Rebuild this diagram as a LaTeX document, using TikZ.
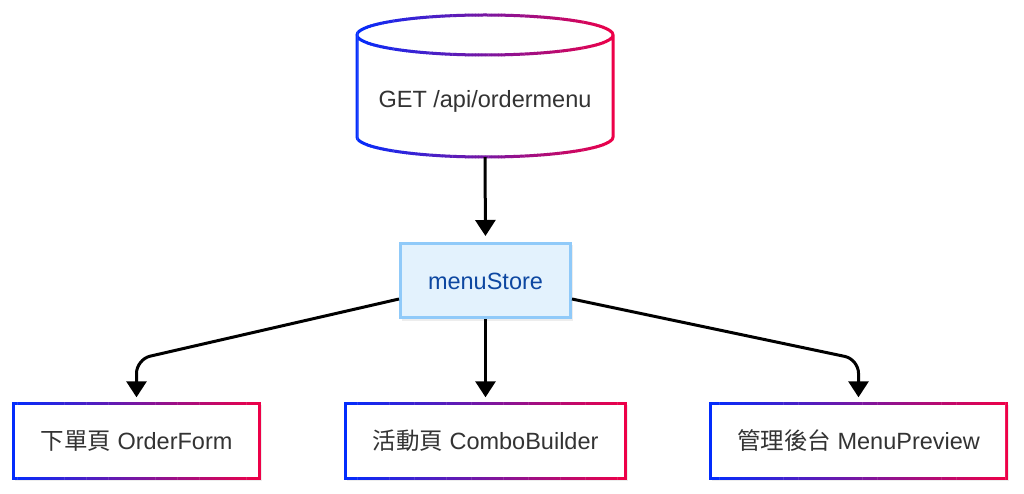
\documentclass[tikz,border=0pt]{standalone}
\usepackage{fontspec}
\setmainfont{Liberation Sans}
\newfontfamily\cjk{Noto Sans CJK TC}
\usetikzlibrary{arrows.meta,calc}
\definecolor{gBlue}{RGB}{0,45,255}
\definecolor{gRed}{RGB}{240,0,70}
\definecolor{msFill}{HTML}{E3F2FD}
\definecolor{msDraw}{HTML}{90CAF9}
\definecolor{msText}{HTML}{0D47A1}
\definecolor{txt}{HTML}{333333}
\newcommand\gradstroke[3]{%
 \foreach \i in {0,...,79}{%
  \pgfmathsetmacro\xa{#1+(#2-#1)/80*\i}%
  \pgfmathsetmacro\xb{#1+(#2-#1)/80*(\i+1)+0.4}%
  \pgfmathtruncatemacro\p{round(100-(\i+0.5)*1.25)}%
  \begin{scope}
   \clip (\xa,-10) rectangle (\xb,510);
   \draw[line width=3pt, draw=gBlue!\p!gRed] #3;
  \end{scope}
 }}
\begin{document}
\begin{tikzpicture}[x=1pt,y=-1pt,
  every node/.style={font=\fontsize{23.5}{28}\selectfont, text=txt, inner sep=0pt, text height=17pt, text depth=0pt},
  pagebox/.style={minimum width=#1, minimum height=75pt, fill=white},
  conn/.style={line width=3pt, -{Triangle[width=20pt,length=16pt]}, rounded corners=14pt, shorten >=6pt},
  shadowbox/.style={fill=black, opacity=0.07}]
\useasboundingbox[fill=white] (0,0) rectangle (1024,494);
% cylinder
\fill[white] (357,35) -- (357,137) arc[start angle=180,end angle=0,x radius=128,y radius=20] -- (613,35) arc[start angle=0,end angle=-180,x radius=128,y radius=20] -- cycle;
\gradstroke{354}{616}{(357,35) -- (357,137) arc[start angle=180,end angle=0,x radius=128,y radius=20] -- (613,35) (485,35) ellipse[x radius=128,y radius=20]}
\node[minimum width=256pt, minimum height=142pt] (api) at (485,86) {};
\node (apitext) at (485,99) {GET /api/ordermenu};
% menuStore
\fill[shadowbox] (402,245) rectangle (573,321);
\node[minimum width=170pt, minimum height=74pt, fill=msFill, draw=msDraw, line width=3pt, text=msText] (ms) at (485.5,280.5) {menuStore};
% bottom boxes
\fill[shadowbox] (15,405) rectangle (262,481);
\fill[shadowbox] (347,405) rectangle (628,481);
\fill[shadowbox] (712,405) rectangle (1009,481);
\node[pagebox=246pt] (b1) at (136.5,441) {{\cjk 下單頁} OrderForm};
\node[pagebox=280pt] (b2) at (485.5,441) {{\cjk 活動頁} ComboBuilder};
\node[pagebox=296pt] (b3) at (858.5,441) {{\cjk 管理後台} MenuPreview};
\gradstroke{11}{262}{(b1.north west) rectangle (b1.south east)}
\gradstroke{343}{628}{(b2.north west) rectangle (b2.south east)}
\gradstroke{708}{1009}{(b3.north west) rectangle (b3.south east)}
% connectors
\draw[conn] (api.south) -- (ms.north);
\draw[conn] (ms.south) -- (b2.north);
\draw[conn] ($(ms.west)+(0,18.5)$) -- ($(b1.north)+(0,-44)$) -- (b1.north);
\draw[conn] ($(ms.east)+(0,18.5)$) -- ($(b3.north)+(0,-44)$) -- (b3.north);
\end{tikzpicture}
\end{document}
